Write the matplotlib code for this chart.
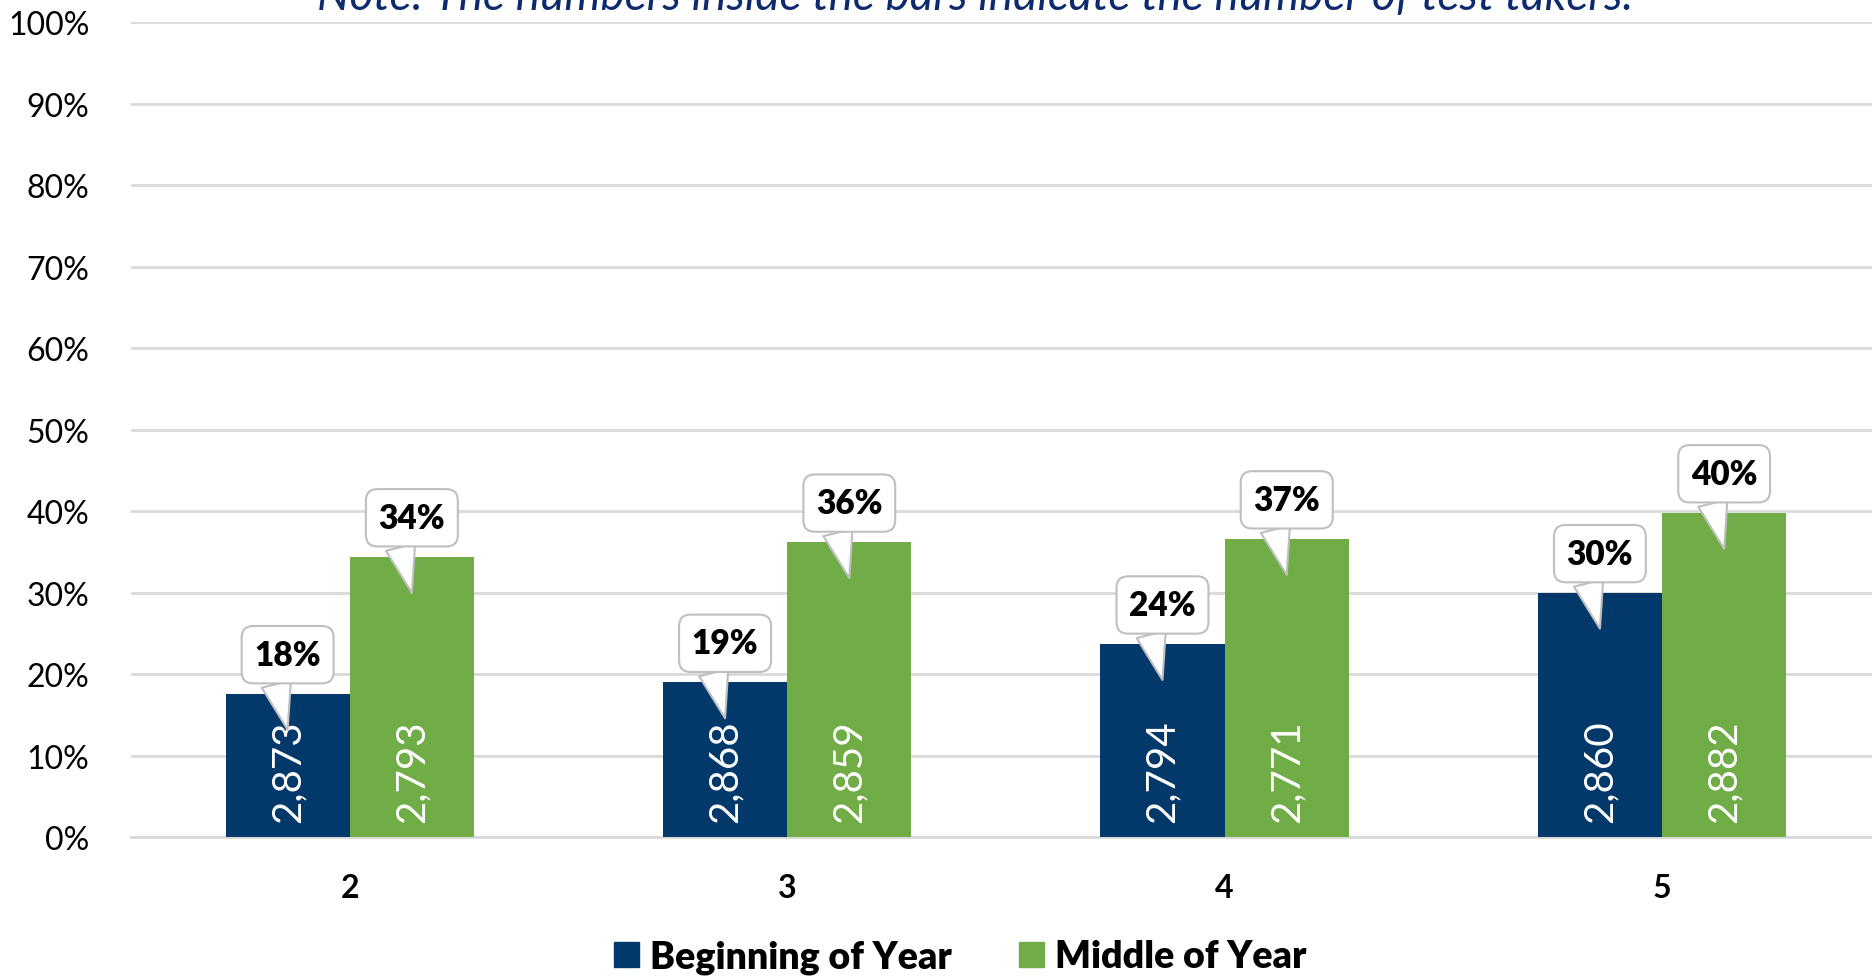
import matplotlib
matplotlib.use("Agg")
import matplotlib.pyplot as plt
import matplotlib.transforms as mtransforms
from matplotlib.patches import Patch
import numpy as np

plt.rcParams['font.family'] = ['Lato', 'DejaVu Sans']

# data
grades = ['2', '3', '4', '5']
boy_pct = [17.6, 19.0, 23.7, 30.0]
moy_pct = [34.4, 36.2, 36.6, 39.8]
boy_n = [2873, 2868, 2794, 2860]
moy_n = [2793, 2859, 2771, 2882]
series_names = ['Beginning of Year', 'Middle of Year']

navy = '#03386B'
green = '#70AD47'
grid_col = '#D9D9D9'

fig = plt.figure(figsize=(18.72, 9.79), dpi=100)
ax = fig.add_axes([0.070, 0.144, 0.930, 0.8325])

x = np.arange(len(grades))
w = 0.284
b1 = ax.bar(x - w / 2, boy_pct, w, color=navy, zorder=3)
b2 = ax.bar(x + w / 2, moy_pct, w, color=green, zorder=3)

ax.set_xlim(-0.5, 3.48)
ax.set_ylim(0, 100)
ax.set_yticks(range(0, 101, 10))
ax.set_yticklabels([f'{t}%' for t in range(0, 101, 10)], fontsize=23)
ax.set_xticks(x)
ax.set_xticklabels(grades, fontsize=23, fontweight='bold')
ax.tick_params(axis='both', length=0)
ax.tick_params(axis='x', pad=26)
ax.tick_params(axis='y', pad=30)
ax.grid(axis='y', color=grid_col, linewidth=2, zorder=0)
for s in ['top', 'right', 'left']:
    ax.spines[s].set_visible(False)
ax.spines['bottom'].set_color(grid_col)
ax.spines['bottom'].set_linewidth(2)

# counts inside bars
for bars, counts in [(b1, boy_n), (b2, moy_n)]:
    for rect, n in zip(bars, counts):
        cx = rect.get_x() + rect.get_width() / 2
        ax.annotate(f'{n:,}', xy=(cx, 0), xytext=(0, 11), textcoords='offset points',
                    rotation=90, ha='center', va='bottom', color='white',
                    fontsize=29, zorder=5)

# speech-bubble callouts
down = mtransforms.ScaledTranslation(0, -26 / 72, fig.dpi_scale_trans)
for bars, vals in [(b1, boy_pct), (b2, moy_pct)]:
    for rect, v in zip(bars, vals):
        cx = rect.get_x() + rect.get_width() / 2
        ax.annotate(f'{v:.0f}%', xy=(cx, v), xycoords=ax.transData + down,
                    xytext=(0, 54), textcoords='offset points',
                    ha='center', va='center', fontsize=24, fontweight='heavy',
                    zorder=6,
                    bbox=dict(boxstyle='round,pad=0.38,rounding_size=0.35',
                              fc='white', ec='#BFBFBF', lw=1.5),
                    arrowprops=dict(arrowstyle='wedge,tail_width=0.9',
                                    fc='white', ec='#BFBFBF', lw=1.5,
                                    relpos=(0.28, 0.0), shrinkA=0, shrinkB=0))

fig.text(0.521, 0.990, 'Note: The numbers inside the bars indicate the number of test takers.',
         ha='center', va='baseline', fontsize=33, style='italic', color='#0D2A6E')

handles = [Patch(color=navy), Patch(color=green)]
fig.legend(handles, series_names, loc='center', bbox_to_anchor=(0.513, 0.022),
           ncol=2, frameon=False, handlelength=0.65, handleheight=0.65,
           handletextpad=0.3, columnspacing=1.8, prop={'weight': 'heavy', 'size': 27})

fig.savefig('out.png', dpi=100)
